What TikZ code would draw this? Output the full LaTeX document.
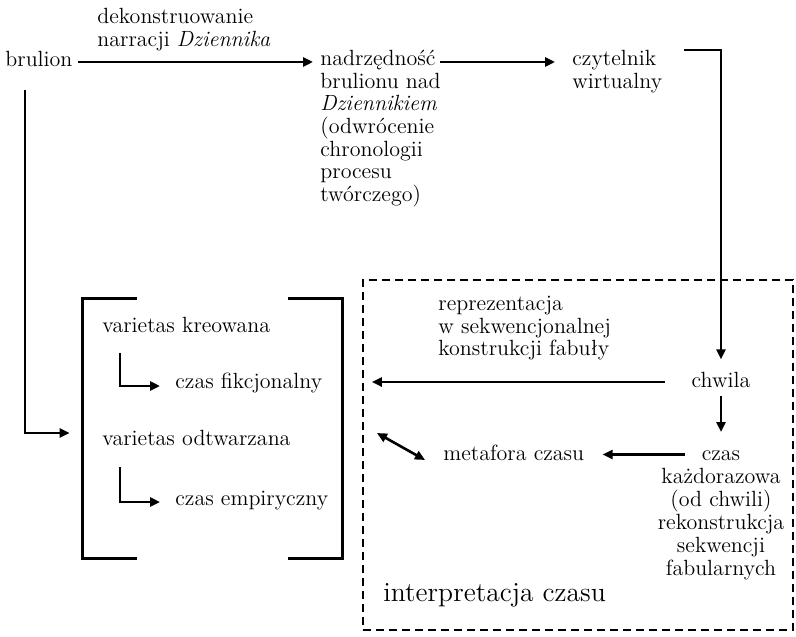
\documentclass[tikz,border=0pt]{standalone}
\usepackage{fontspec}
\usepackage{tikz}
\usetikzlibrary{arrows.meta,positioning}
\tikzset{txt/.style={inner sep=0pt,font=\fontsize{11}{11.3}\selectfont},
    arr/.style={line width=1.3pt,-{Triangle[length=5pt,width=4.5pt]}},
    dbl/.style={line width=1.3pt,{Triangle[length=5pt,width=4.5pt]}-{Triangle[length=5pt,width=4.5pt]}},
    brk/.style={line width=1.3pt},
    dashbox/.style={draw,line width=1.2pt,dash pattern=on 4pt off 2.5pt}}

\begin{document}
\begin{tikzpicture}[x=0.5pt,y=-0.5pt]
\useasboundingbox (0,0) rectangle (796,636);
% top row
\node[txt,anchor=base west] (brulion) at (5,67) {brulion};
\node[txt,anchor=south west,align=left] (dekon) at (97,51) {dekonstruowanie\\narracji \textit{Dziennika}};
\node[txt,anchor=north west,align=left] (nadrz) at (320,50) {nadrzędność\\brulionu nad\\\textit{Dziennikiem}\\(odwrócenie\\chronologii\\procesu\\twórczego)};
\node[txt,anchor=north west,align=left] (czyt) at (572,50) {czytelnik\\wirtualny};
\draw[arr] ([xshift=36.5pt,yshift=2.5pt]brulion.base west) -- ([xshift=-3.5pt,yshift=2.5pt]nadrz.west |- brulion.base);
\draw[arr] ([xshift=60pt,yshift=-6pt]nadrz.north west) -- ([xshift=-8.5pt,yshift=-6pt]czyt.north west);
% interpretacja czasu
\node[dashbox,minimum width=215pt,minimum height=175pt,inner sep=0pt] (ibox) at (578,455) {};
\node[txt,anchor=base] (chwila) at (721,387) {chwila};
\node[txt,font=\fontsize{11}{11.5}\selectfont,anchor=north,align=center] (czas) at (721,450) {czas\\każdorazowa\\(od chwili)\\rekonstrukcja\\sekwencji\\fabularnych};
\node[txt,anchor=base west] (metafora) at (443,460) {metafora czasu};
\node[txt,anchor=north west,align=left] (repr) at (438,296) {reprezentacja\\w sekwencjonalnej\\konstrukcji fabuły};
\node[txt,font=\fontsize{13.8}{15}\selectfont,anchor=base west] (interp) at (383,601) {interpretacja czasu};
\draw[arr] ([xshift=56pt]czyt.north west) -| ([yshift=6pt]chwila.north);
\draw[arr] ([yshift=-4.5pt]chwila.base) -- ([yshift=9pt]czas.north);
\draw[arr] ([xshift=-28pt,yshift=2.5pt]chwila.base) -- ([xshift=5pt,yshift=2.5pt]ibox.west |- chwila.base);
\draw[arr] ([xshift=-18pt,yshift=-2.25pt]czas.north) -- ([xshift=9pt,yshift=-2.25pt]metafora.east |- czas.north);
\draw[dbl] ([xshift=-33pt,yshift=13.5pt]metafora.base west) -- ([xshift=-9pt]metafora.base west);
% varietas
\node[minimum width=129.5pt,minimum height=129.5pt,inner sep=0pt] (vbox) at (212.5,428.5) {};
\draw[brk] ([xshift=27pt]vbox.north west) -- (vbox.north west) -- (vbox.south west) -- ([xshift=27pt]vbox.south west);
\draw[brk] ([xshift=-27pt]vbox.north east) -- (vbox.north east) -- (vbox.south east) -- ([xshift=-27pt]vbox.south east);
\node[txt,anchor=base west] (var1) at (102,332) {varietas kreowana};
\node[txt,anchor=base west] (fik) at (175,388) {czas fikcjonalny};
\node[txt,anchor=base west] (var2) at (102,445) {varietas odtwarzana};
\node[txt,anchor=base west] (emp) at (175,505) {czas empiryczny};
\draw[arr] ([xshift=9pt,yshift=-10.5pt]var1.base west) |- ([xshift=-7.5pt,yshift=1pt]fik.base west);
\draw[arr] ([xshift=9pt,yshift=-11pt]var2.base west) |- ([xshift=-7.5pt,yshift=1.5pt]emp.base west);
\draw[arr] ([xshift=10pt,yshift=-11.5pt]brulion.base west) |- ([xshift=-6.5pt,yshift=-2.25pt]vbox.west);
\end{tikzpicture}
\end{document}
